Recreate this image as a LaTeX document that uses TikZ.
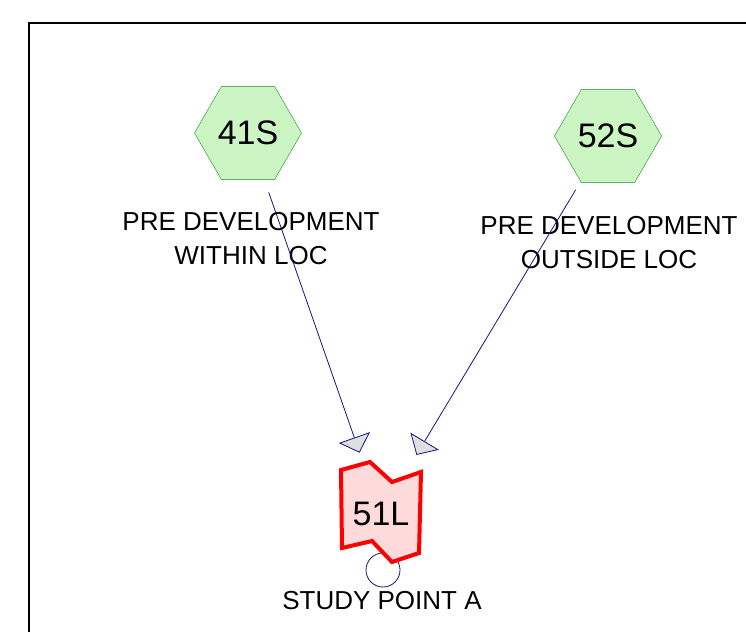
\documentclass[tikz,border=0pt]{standalone}
\usepackage{fontspec}
\setmainfont{Liberation Sans}
\usetikzlibrary{arrows.meta,shapes.geometric,positioning}
\definecolor{subfill}{RGB}{204,245,196}
\definecolor{subline}{RGB}{20,140,20}
\definecolor{linkfill}{RGB}{255,218,218}
\definecolor{reachline}{RGB}{20,20,130}

\begin{document}
\begin{tikzpicture}[x=1pt,y=-1pt,
    subcat/.style={regular polygon,regular polygon sides=6,minimum size=107pt,inner sep=0pt,
        draw=subline,fill=subfill,font=\fontsize{34}{40}\selectfont},
    desc/.style={align=center,font=\fontsize{26}{34}\selectfont},
    flow/.style={draw=reachline,line width=0.8pt,-{Triangle[length=16pt,width=33pt,fill=gray!25]}}]
  \useasboundingbox (0,0) rectangle (746,632);
  \draw[line width=2pt] (29,632) -- (29,23) -- (746,23);

  \node[subcat] (41S) at (248,133) {41S};
  \node[subcat] (52S) at (608,136) {52S};
  \node[desc] (d41S) at (251,239) {PRE DEVELOPMENT\\WITHIN LOC};
  \node[desc] (d52S) at (609,243) {PRE DEVELOPMENT\\OUTSIDE LOC};

  \node[circle,draw=reachline,line width=0.8pt,minimum size=34pt] (o51L) at (383,570) {};
  \draw[red,line width=4pt,fill=linkfill]
    (341,470) -- (370,462) -- (392,482) -- (421,472) -- (419,553)
    -- (392,562) -- (372,541) -- (342,548) -- cycle;
  \node[minimum width=80pt,minimum height=92pt,font=\fontsize{34}{40}\selectfont] (51L) at (381,514) {51L};
  \node[desc] (d51L) at (382,601) {STUDY POINT A};

  \path[flow]
    (41S) edge [shorten <=13.5pt,shorten >=16pt] (51L)
    (52S) edge [shorten <=9.5pt,shorten >=15pt] (51L);
\end{tikzpicture}
\end{document}
